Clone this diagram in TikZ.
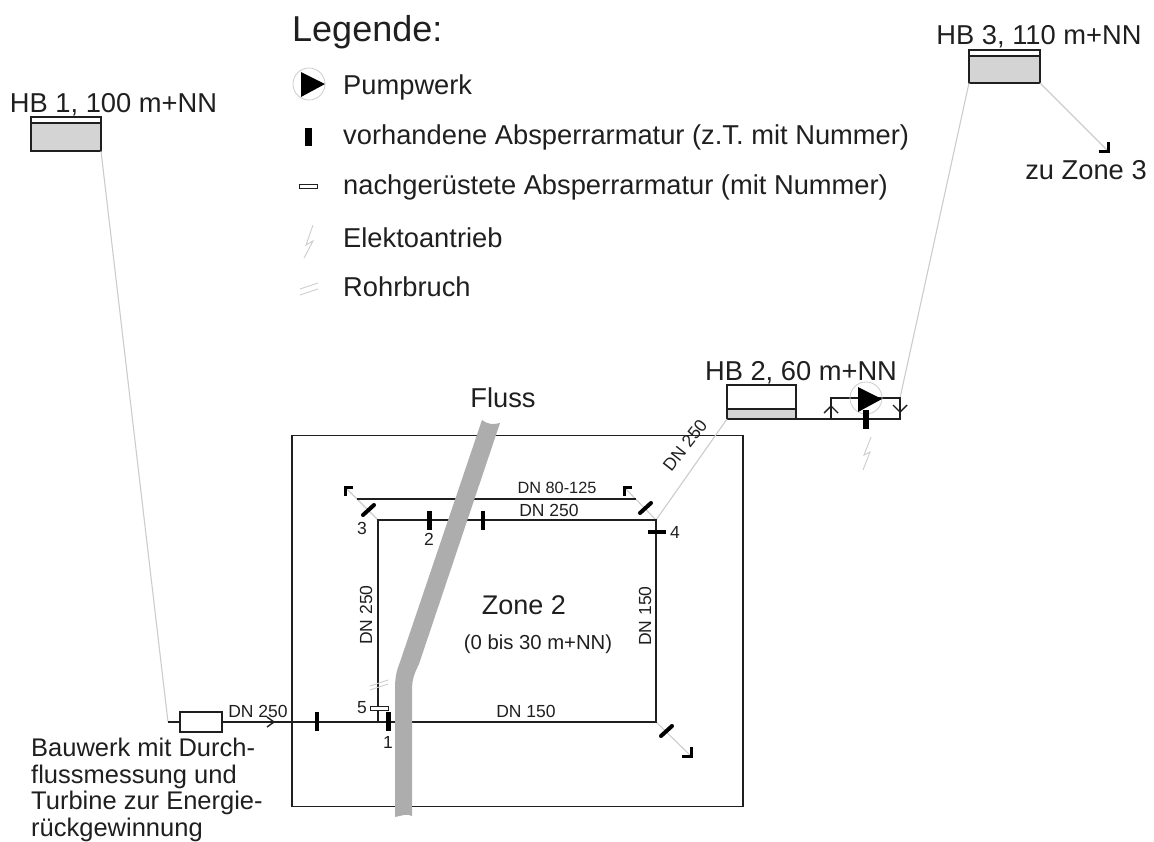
\documentclass[tikz,border=0pt]{standalone}
\usepackage{fontspec}
\setmainfont{Liberation Sans}
\definecolor{pipegray}{gray}{0.8}
\definecolor{fillgray}{gray}{0.83}
\definecolor{rivergray}{gray}{0.68}
\definecolor{inkblack}{gray}{0.12}
\tikzset{
  x=1pt,y=-1pt,
  pipe/.style={draw=inkblack,line width=1.4pt},
  graypipe/.style={draw=pipegray,line width=1.1pt},
  basin/.style={draw=inkblack,line width=1.4pt,fill=white,rectangle,inner sep=0pt,outer sep=0pt},
  basinfill/.style={draw=inkblack,line width=1.4pt,fill=fillgray},
  valve/.style={draw=black,line width=5pt},
  thinvalve/.style={draw=black,line width=4pt,line cap=round},
  corner/.style={draw=black,line width=3pt},
  newvalve/.style={draw=inkblack,line width=1pt,fill=white,rectangle,inner sep=0pt,outer sep=0pt,minimum width=18pt,minimum height=4pt},
  thin gray/.style={draw=pipegray,line width=0.9pt},
  big/.style={font=\fontsize{36}{40}\selectfont,inner sep=0pt,anchor=west,text=inkblack},
  leg/.style={font=\fontsize{27.3}{30}\selectfont,inner sep=0pt,anchor=west,text=inkblack},
  lab/.style={font=\fontsize{27.3}{30}\selectfont,inner sep=0pt,text=inkblack},
  dn/.style={font=\fontsize{17.5}{20}\selectfont,inner sep=0pt,text=inkblack},
  num/.style={font=\fontsize{17.5}{20}\selectfont,inner sep=0pt,text=inkblack},
}
\begin{document}
\begin{tikzpicture}
\useasboundingbox (0,0) rectangle (1154,841);
% coordinates
\coordinate (jmain) at (168,722);
\coordinate (nw) at (378,520);
\coordinate (ne) at (656,520);
\coordinate (sw) at (378,722);
\coordinate (se) at (656,722);
\coordinate (l2w) at (357,499);
\coordinate (l2e) at (636,499);
\coordinate (c3) at (345,487);
\coordinate (c4) at (624,487);
\coordinate (c5) at (691,756);
\coordinate (cz3) at (1108,151);
\coordinate (pl) at (831,419);
\coordinate (pr) at (900,419);
\coordinate (plt) at (831,398);
\coordinate (prt) at (900,398);
% zone
\node[draw=inkblack,line width=1.4pt,rectangle,minimum width=451pt,minimum height=371pt,inner sep=0pt,outer sep=0pt] (zone) at (517.5,621) {};
% basins
\node[basin,minimum width=70pt,minimum height=34pt] (hb1) at (66,134) {};
\node[basin,minimum width=71pt,minimum height=33pt] (hb3) at (1004.5,66.5) {};
\node[basin,minimum width=69pt,minimum height=34pt] (hb2) at (761.5,402) {};
\draw[basinfill] (31,123) rectangle (101,151);
\draw[basinfill] (969,56) rectangle (1040,83);
\draw[basinfill] (727,409) rectangle (796,419);
% gray pipes
\draw[graypipe] (hb1.south east) -- (jmain);
\draw[graypipe] (hb3.south west) -- (prt);
\draw[graypipe] (hb3.south east) -- (cz3);
\draw[graypipe] (hb2.south west) -- (ne);
\draw[graypipe] (nw) -- (c3);
\draw[graypipe] (ne) -- (c4);
\draw[graypipe] (se) -- (c5);
% black pipes
\node[basin,minimum width=42pt,minimum height=20pt] (bw) at (201,722) {};
\draw[pipe] (jmain) -- (bw.west);
\draw[pipe] (bw.east) -- (sw) -- (se) -- (ne) -- (nw) -- (sw);
\draw[pipe] (l2w) -- (l2e);
\draw[pipe] (hb2.south east) -- (pl) -- (pr) -- (prt) -- (plt) -- (pl);
% river
\path[fill=rivergray] (482,420) .. controls (487,424) and (493,425) .. (500,423)
  -- (419,664) .. controls (414,674) and (412,680) .. (412,690) -- (412,816)
  .. controls (407,813) and (401,816) .. (395,817) -- (395,690)
  .. controls (395,678) and (396,672) .. (400,662) -- cycle;
% chevrons
\draw[inkblack,line width=1.4pt] (267,717) -- (274,722) -- (267,727);
\draw[inkblack,line width=1.4pt] (824,413) -- (831,406) -- (838,413);
\draw[inkblack,line width=1.4pt] (893,405) -- (900,412) -- (907,405);
% valves
\draw[valve] (429,511) -- (429,530);
\draw[draw=black,line width=4pt] (483,511) -- (483,530);
\draw[draw=black,line width=4pt] (317,712) -- (317,731);
\draw[valve] (388,712) -- (388,731);
\draw[thinvalve] (363,515) -- (374,505);
\draw[thinvalve] (640,513) -- (651,503);
\draw[thinvalve] (661,736) -- (672,726);
\draw[draw=black,line width=4pt] (648,532) -- (666,532);
\node[newvalve] (v5) at (379,708.5) {};
\draw[corner] (c3) ++(0,9) -- (c3) -- ++(8,0);
\draw[corner] (c4) ++(0,9) -- (c4) -- ++(8,0);
\draw[corner] (c5) ++(0,-9) -- (c5) -- ++(-9,0);
\draw[corner] (cz3) ++(0,-9) -- (cz3) -- ++(-9,0);
\draw[thin gray] (370,686) -- (388,680);
\draw[thin gray] (370,690) -- (388,684);
% pump HB2
\node[circle,draw=pipegray,line width=0.8pt,minimum size=32pt,inner sep=0pt] (pump2) at (866,398) {};
\fill[black] (858,387) -- (882,399) -- (858,412) -- cycle;
\draw[draw=black,line width=6pt] (866,410) -- (866,429);
\draw[thin gray] (871,437) -- (864,455) -- (870,452) -- (863,470);
% legend symbols
\node[circle,draw=pipegray,line width=0.8pt,minimum size=32pt,inner sep=0pt] (pumpL) at (309,84) {};
\fill[black] (301,72) -- (325,84) -- (301,97) -- cycle;
\draw[draw=black,line width=6.5pt] (308.5,128) -- (308.5,146);
\node[newvalve,minimum height=4.5pt] (vL) at (308,186.5) {};
\draw[thin gray] (313,225) -- (306,245) -- (313,241) -- (304,258);
\draw[thin gray] (300,289) -- (318,283);
\draw[thin gray] (300,295) -- (318,289);
% legend text
\node[big] (t0) at (292,32) {Legende:};
\node[leg] (t1) at (343,87.5) {Pumpwerk};
\node[leg] (t2) at (343,137.5) {vorhandene Absperrarmatur (z.T. mit Nummer)};
\node[leg] (t3) at (343,187.5) {nachgerüstete Absperrarmatur (mit Nummer)};
\node[leg] (t4) at (343,237.5) {Elektoantrieb};
\node[leg] (t5) at (343,287) {Rohrbruch};
% labels
\node[lab] (h1) at (113.5,105) {HB 1, 100 m+NN};
\node[lab] (h3) at (1039,36.5) {HB 3, 110 m+NN};
\node[lab] (h2) at (801,372.5) {HB 2, 60 m+NN};
\node[lab] (z3) at (1086,170) {zu Zone 3};
\node[lab] (fl) at (503,398) {Fluss};
\node[font=\fontsize{27}{30}\selectfont,inner sep=0pt,text=inkblack] (z2) at (524,605) {Zone 2};
\node[font=\fontsize{20.3}{24}\selectfont,inner sep=0pt,text=inkblack] (z2b) at (538,644) {(0 bis 30 m+NN)};
\node[dn] (d1) at (258,711) {DN 250};
\node[dn,font=\fontsize{16.3}{20}\selectfont] (d2) at (557,488) {DN 80-125};
\node[dn] (d3) at (549,510) {DN 250};
\node[dn] (d4) at (526,711) {DN 150};
\node[dn,rotate=90] (d5) at (366,615) {DN 250};
\node[dn,rotate=90] (d6) at (645,616) {DN 150};
\node[dn,rotate=52] (d7) at (685,445) {DN 250};
\node[num] (n1) at (388,742) {1};
\node[num] (n2) at (429,539) {2};
\node[num] (n3) at (362,528) {3};
\node[num] (n4) at (675,532) {4};
\node[num] (n5) at (362,708) {5};
\node[leg,anchor=north west,align=left,font=\fontsize{25.5}{26.5}\selectfont] (bwt) at (31,738) {Bauwerk mit Durch-\\flussmessung und\\Turbine zur Energie-\\rückgewinnung};
\end{tikzpicture}
\end{document}
